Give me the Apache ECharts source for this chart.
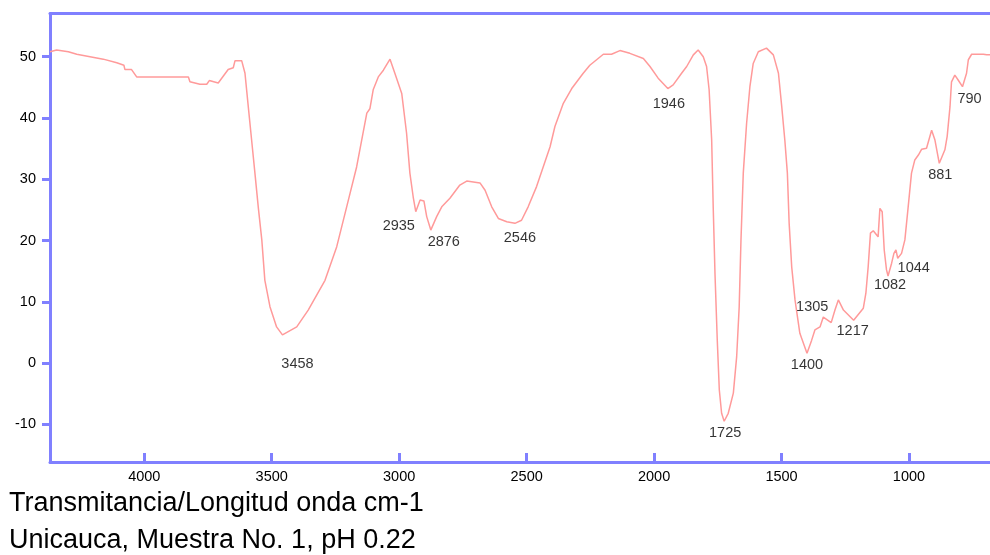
<!DOCTYPE html>
<html>
<head>
<meta charset="utf-8">
<title>Transmitancia/Longitud onda cm-1</title>
<script src="https://cdn.jsdelivr.net/npm/echarts@6/dist/echarts.min.js"></script>
<style>
  html, body { margin: 0; padding: 0; background: #ffffff; }
  #chart { width: 990px; height: 555px; }
</style>
</head>
<body>
<div id="chart"></div>
<script>
// IR spectrum: wavenumber (cm-1) against transmittance
const wavenumbers = [
  4370, 4344, 4298, 4265, 4213, 4161, 4108, 4080, 4076, 4050, 4030, 3827, 3821, 3782, 3755, 3745,
  3710, 3671, 3651, 3644, 3618, 3605, 3592, 3579, 3566, 3553, 3539, 3527, 3507, 3481, 3458, 3402,
  3357, 3291, 3245, 3206, 3167, 3127, 3115, 3102, 3082, 3062, 3036, 3017, 2990, 2971, 2958, 2945,
  2935, 2918, 2903, 2892, 2876, 2853, 2833, 2801, 2762, 2735, 2683, 2663, 2637, 2611, 2578, 2546,
  2520, 2494, 2461, 2435, 2408, 2389, 2356, 2323, 2278, 2252, 2199, 2167, 2134, 2095, 2042, 2016,
  1984, 1946, 1925, 1892, 1872, 1846, 1827, 1807, 1794, 1784, 1774, 1768, 1761, 1752, 1744, 1735,
  1725, 1709, 1689, 1676, 1666, 1659, 1650, 1637, 1624, 1611, 1591, 1559, 1532, 1512, 1499, 1487,
  1477, 1470, 1460, 1447, 1428, 1400, 1382, 1369, 1349, 1336, 1305, 1290, 1277, 1257, 1217, 1179,
  1169, 1160, 1151, 1140, 1121, 1114, 1105, 1097, 1088, 1082, 1068, 1059, 1051, 1044, 1029, 1016,
  1003, 990, 977, 963, 950, 931, 911, 898, 881, 859, 850, 839, 833, 820, 807, 790,
  774, 767, 754, 708, 695, 682
];
const transmittance = [
  50.8, 51.1, 50.8, 50.4, 50.0, 49.6, 49.0, 48.6, 47.9, 47.9, 46.7, 46.7, 45.9, 45.5, 45.5, 46.1,
  45.7, 47.9, 48.2, 49.35, 49.35, 47.3, 41.8, 36.4, 31.0, 25.5, 20.1, 13.5, 9.2, 5.9, 4.6, 5.9,
  8.65, 13.5, 19.0, 25.5, 32.0, 40.8, 41.5, 44.6, 46.7, 47.8, 49.6, 47.3, 44.0, 37.5, 31.0, 27.1,
  24.7, 26.6, 26.45, 23.9, 21.7, 23.9, 25.5, 26.9, 29.05, 29.7, 29.4, 28.2, 25.5, 23.6, 23.05, 22.8,
  23.3, 25.5, 28.8, 32.0, 35.3, 38.6, 42.4, 44.8, 47.3, 48.6, 50.4, 50.4, 51.0, 50.55, 49.7, 48.4,
  46.5, 44.8, 45.4, 47.3, 48.4, 50.3, 51.1, 50.0, 48.4, 44.6, 36.4, 25.5, 14.6, 3.7, -4.4, -8.2,
  -9.5, -8.2, -4.9, 1.0, 9.2, 20.1, 31.0, 39.1, 45.1, 48.9, 50.8, 51.4, 50.3, 47.3, 41.8, 36.4,
  31.0, 22.8, 15.7, 10.3, 4.85, 1.6, 3.7, 5.4, 5.9, 7.5, 6.6, 8.7, 10.3, 8.65, 7.0, 8.95,
  11.4, 15.7, 21.2, 21.6, 20.6, 25.25, 24.7, 18.45, 15.2, 14.2, 16.3, 17.9, 18.45, 17.1, 17.9, 20.1,
  25.5, 31.0, 33.15, 33.95, 34.9, 35.05, 38.0, 36.4, 32.6, 34.8, 37.0, 41.8, 45.9, 47.0, 46.2, 45.1,
  47.3, 49.5, 50.4, 50.4, 50.3, 50.3
];

// Band positions marked on the spectrum
const peakWavenumbers = [3458, 2935, 2876, 2546, 1946, 1725, 1400, 1305, 1217, 1082, 1044, 881, 790];

// Axis ticks
const xTickValues = [4000, 3500, 3000, 2500, 2000, 1500, 1000];
const yTickValues = [-10, 0, 10, 20, 30, 40, 50];

// Caption under the plot
const captionLines = [
  'Transmitancia/Longitud onda cm-1',
  'Unicauca, Muestra No. 1, pH 0.22'
];

// Label placement relative to each marked band (pixels)
const peakLabelOffsets = {
  3458: [15, 29], 2935: [-17, 14], 2876: [13, 12], 2546: [5, 15], 1946: [1, 15],
  1725: [1, 12], 1400: [0, 12], 1305: [-19, -16], 1217: [-1, 11], 1082: [2, 9],
  1044: [16, 10], 881: [1, 12], 790: [7, 12]
};

const AXIS_BLUE = '#8080ff';
const TRACE = '#ff9a9a';
const FONT = 'Liberation Sans, Arial, sans-serif';

const spectrum = wavenumbers.map((w, i) => [w, transmittance[i]]);
const peaks = peakWavenumbers.map(w => {
  const i = wavenumbers.indexOf(w);
  return {
    value: [w, transmittance[i]],
    label: { offset: peakLabelOffsets[w] || [0, 12] }
  };
});

const plainNumber = v => String(Math.round(v));

const chart = echarts.init(document.getElementById('chart'), null, { renderer: 'canvas' });

chart.setOption({
  animation: false,
  backgroundColor: '#ffffff',
  grid: { left: 50, right: 0, top: 13.5, bottom: 93, containLabel: false },
  xAxis: [
    {
      type: 'value',
      inverse: true,
      min: 682,
      max: 4370,
      axisLine: { show: true, onZero: false, lineStyle: { color: AXIS_BLUE, width: 3 } },
      axisTick: { show: true, inside: true, length: 9, customValues: xTickValues,
                  lineStyle: { color: AXIS_BLUE, width: 3 } },
      axisLabel: { show: true, customValues: xTickValues, margin: 7, color: '#000000',
                   fontFamily: FONT, fontSize: 14.5, formatter: plainNumber },
      splitLine: { show: false }
    },
    {
      type: 'value',
      position: 'top',
      inverse: true,
      min: 682,
      max: 4370,
      axisLine: { show: true, onZero: false, lineStyle: { color: AXIS_BLUE, width: 3 } },
      axisTick: { show: false },
      axisLabel: { show: false },
      splitLine: { show: false }
    }
  ],
  yAxis: {
    type: 'value',
    min: -16.15,
    max: 57.05,
    axisLine: { show: true, onZero: false, lineStyle: { color: AXIS_BLUE, width: 3 } },
    axisTick: { show: true, inside: false, length: 8, customValues: yTickValues,
                lineStyle: { color: AXIS_BLUE, width: 3 } },
    axisLabel: { show: true, customValues: yTickValues, margin: 14, color: '#000000',
                 fontFamily: FONT, fontSize: 14.5, formatter: plainNumber },
    splitLine: { show: false }
  },
  series: [
    {
      type: 'line',
      data: spectrum,
      showSymbol: false,
      symbol: 'none',
      smooth: false,
      lineStyle: { color: TRACE, width: 1.5 },
      silent: true,
      z: 3
    },
    {
      type: 'scatter',
      data: peaks,
      symbolSize: 0,
      silent: true,
      z: 4,
      label: {
        show: true,
        position: 'inside',
        formatter: p => String(p.value[0]),
        color: '#000000',
        fontFamily: FONT,
        fontSize: 14.5
      }
    }
  ],
  graphic: captionLines.map((line, i) => ({
    type: 'text',
    left: 9,
    top: 490 + i * 36.6,
    silent: true,
    style: { text: line, fill: '#000000', font: '27px ' + FONT }
  }))
});
</script>
</body>
</html>
